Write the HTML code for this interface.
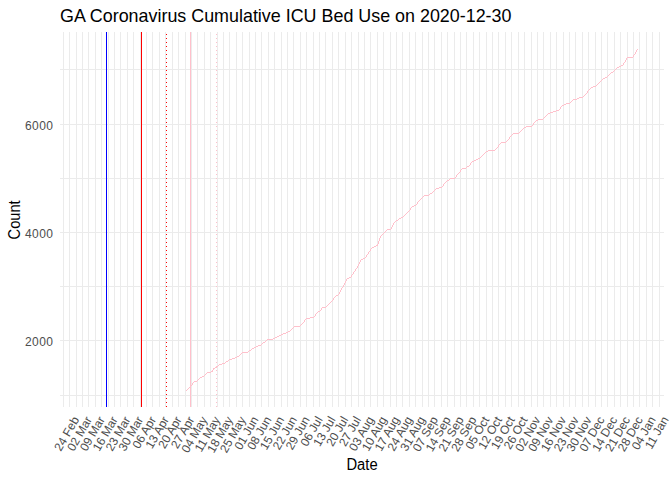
<!DOCTYPE html>
<html><head><meta charset="utf-8"><title>GA Coronavirus Cumulative ICU Bed Use</title>
<style>html,body{margin:0;padding:0;background:#fff;}body{width:672px;height:480px;overflow:hidden;}svg{display:block;}text{font-family:"Liberation Sans",sans-serif;}</style></head><body>
<svg width="672" height="480" viewBox="0 0 672 480">
<rect width="672" height="480" fill="#ffffff"/>
<g shape-rendering="crispEdges" fill="#EBEBEB">
<rect x="60" y="69" width="604" height="1"/>
<rect x="60" y="124" width="604" height="1"/>
<rect x="60" y="178" width="604" height="1"/>
<rect x="60" y="232" width="604" height="1"/>
<rect x="60" y="286" width="604" height="1"/>
<rect x="60" y="340" width="604" height="1"/>
<rect x="60" y="395" width="604" height="1"/>
<rect x="63" y="32" width="1" height="375"/>
<rect x="69" y="32" width="1" height="375"/>
<rect x="76" y="32" width="1" height="375"/>
<rect x="82" y="32" width="1" height="375"/>
<rect x="88" y="32" width="1" height="375"/>
<rect x="95" y="32" width="1" height="375"/>
<rect x="101" y="32" width="1" height="375"/>
<rect x="108" y="32" width="1" height="375"/>
<rect x="114" y="32" width="1" height="375"/>
<rect x="120" y="32" width="1" height="375"/>
<rect x="127" y="32" width="1" height="375"/>
<rect x="133" y="32" width="1" height="375"/>
<rect x="140" y="32" width="1" height="375"/>
<rect x="146" y="32" width="1" height="375"/>
<rect x="152" y="32" width="1" height="375"/>
<rect x="159" y="32" width="1" height="375"/>
<rect x="165" y="32" width="1" height="375"/>
<rect x="172" y="32" width="1" height="375"/>
<rect x="178" y="32" width="1" height="375"/>
<rect x="185" y="32" width="1" height="375"/>
<rect x="191" y="32" width="1" height="375"/>
<rect x="197" y="32" width="1" height="375"/>
<rect x="204" y="32" width="1" height="375"/>
<rect x="210" y="32" width="1" height="375"/>
<rect x="217" y="32" width="1" height="375"/>
<rect x="223" y="32" width="1" height="375"/>
<rect x="229" y="32" width="1" height="375"/>
<rect x="236" y="32" width="1" height="375"/>
<rect x="242" y="32" width="1" height="375"/>
<rect x="249" y="32" width="1" height="375"/>
<rect x="255" y="32" width="1" height="375"/>
<rect x="261" y="32" width="1" height="375"/>
<rect x="268" y="32" width="1" height="375"/>
<rect x="274" y="32" width="1" height="375"/>
<rect x="281" y="32" width="1" height="375"/>
<rect x="287" y="32" width="1" height="375"/>
<rect x="293" y="32" width="1" height="375"/>
<rect x="300" y="32" width="1" height="375"/>
<rect x="306" y="32" width="1" height="375"/>
<rect x="313" y="32" width="1" height="375"/>
<rect x="319" y="32" width="1" height="375"/>
<rect x="325" y="32" width="1" height="375"/>
<rect x="332" y="32" width="1" height="375"/>
<rect x="338" y="32" width="1" height="375"/>
<rect x="345" y="32" width="1" height="375"/>
<rect x="351" y="32" width="1" height="375"/>
<rect x="358" y="32" width="1" height="375"/>
<rect x="364" y="32" width="1" height="375"/>
<rect x="370" y="32" width="1" height="375"/>
<rect x="377" y="32" width="1" height="375"/>
<rect x="383" y="32" width="1" height="375"/>
<rect x="390" y="32" width="1" height="375"/>
<rect x="396" y="32" width="1" height="375"/>
<rect x="402" y="32" width="1" height="375"/>
<rect x="409" y="32" width="1" height="375"/>
<rect x="415" y="32" width="1" height="375"/>
<rect x="422" y="32" width="1" height="375"/>
<rect x="428" y="32" width="1" height="375"/>
<rect x="434" y="32" width="1" height="375"/>
<rect x="441" y="32" width="1" height="375"/>
<rect x="447" y="32" width="1" height="375"/>
<rect x="454" y="32" width="1" height="375"/>
<rect x="460" y="32" width="1" height="375"/>
<rect x="466" y="32" width="1" height="375"/>
<rect x="473" y="32" width="1" height="375"/>
<rect x="479" y="32" width="1" height="375"/>
<rect x="486" y="32" width="1" height="375"/>
<rect x="492" y="32" width="1" height="375"/>
<rect x="498" y="32" width="1" height="375"/>
<rect x="505" y="32" width="1" height="375"/>
<rect x="511" y="32" width="1" height="375"/>
<rect x="518" y="32" width="1" height="375"/>
<rect x="524" y="32" width="1" height="375"/>
<rect x="531" y="32" width="1" height="375"/>
<rect x="537" y="32" width="1" height="375"/>
<rect x="543" y="32" width="1" height="375"/>
<rect x="550" y="32" width="1" height="375"/>
<rect x="556" y="32" width="1" height="375"/>
<rect x="563" y="32" width="1" height="375"/>
<rect x="569" y="32" width="1" height="375"/>
<rect x="575" y="32" width="1" height="375"/>
<rect x="582" y="32" width="1" height="375"/>
<rect x="588" y="32" width="1" height="375"/>
<rect x="595" y="32" width="1" height="375"/>
<rect x="601" y="32" width="1" height="375"/>
<rect x="607" y="32" width="1" height="375"/>
<rect x="614" y="32" width="1" height="375"/>
<rect x="620" y="32" width="1" height="375"/>
<rect x="627" y="32" width="1" height="375"/>
<rect x="633" y="32" width="1" height="375"/>
<rect x="639" y="32" width="1" height="375"/>
<rect x="646" y="32" width="1" height="375"/>
<rect x="652" y="32" width="1" height="375"/>
<rect x="659" y="32" width="1" height="375"/>
</g>
<g shape-rendering="crispEdges" fill="#FFC0CB">
<rect x="637" y="49" width="1" height="1"/>
<rect x="636" y="50" width="1" height="1"/>
<rect x="636" y="51" width="1" height="1"/>
<rect x="635" y="52" width="1" height="1"/>
<rect x="635" y="53" width="1" height="1"/>
<rect x="634" y="54" width="1" height="1"/>
<rect x="633" y="55" width="1" height="1"/>
<rect x="633" y="56" width="1" height="1"/>
<rect x="627" y="57" width="6" height="1"/>
<rect x="626" y="58" width="1" height="1"/>
<rect x="626" y="59" width="1" height="1"/>
<rect x="625" y="60" width="1" height="1"/>
<rect x="625" y="61" width="1" height="1"/>
<rect x="624" y="62" width="1" height="1"/>
<rect x="623" y="63" width="1" height="1"/>
<rect x="623" y="64" width="1" height="1"/>
<rect x="621" y="65" width="2" height="1"/>
<rect x="619" y="66" width="2" height="1"/>
<rect x="617" y="67" width="2" height="1"/>
<rect x="616" y="68" width="1" height="1"/>
<rect x="615" y="69" width="1" height="1"/>
<rect x="614" y="70" width="1" height="1"/>
<rect x="613" y="71" width="1" height="1"/>
<rect x="611" y="72" width="2" height="1"/>
<rect x="610" y="73" width="1" height="1"/>
<rect x="609" y="74" width="1" height="1"/>
<rect x="608" y="75" width="1" height="1"/>
<rect x="607" y="76" width="1" height="1"/>
<rect x="605" y="77" width="2" height="1"/>
<rect x="603" y="78" width="2" height="1"/>
<rect x="602" y="79" width="1" height="1"/>
<rect x="601" y="80" width="1" height="1"/>
<rect x="600" y="81" width="1" height="1"/>
<rect x="599" y="82" width="1" height="1"/>
<rect x="598" y="83" width="1" height="1"/>
<rect x="597" y="84" width="1" height="1"/>
<rect x="596" y="85" width="1" height="1"/>
<rect x="593" y="86" width="3" height="1"/>
<rect x="591" y="87" width="2" height="1"/>
<rect x="590" y="88" width="1" height="1"/>
<rect x="589" y="89" width="1" height="1"/>
<rect x="588" y="90" width="1" height="1"/>
<rect x="587" y="91" width="1" height="1"/>
<rect x="587" y="92" width="1" height="1"/>
<rect x="586" y="93" width="1" height="1"/>
<rect x="585" y="94" width="1" height="1"/>
<rect x="584" y="95" width="1" height="1"/>
<rect x="583" y="96" width="1" height="1"/>
<rect x="579" y="97" width="4" height="1"/>
<rect x="577" y="98" width="2" height="1"/>
<rect x="573" y="99" width="4" height="1"/>
<rect x="572" y="100" width="1" height="1"/>
<rect x="571" y="101" width="1" height="1"/>
<rect x="570" y="102" width="1" height="1"/>
<rect x="566" y="103" width="4" height="1"/>
<rect x="564" y="104" width="2" height="1"/>
<rect x="562" y="105" width="2" height="1"/>
<rect x="561" y="106" width="1" height="1"/>
<rect x="560" y="107" width="1" height="1"/>
<rect x="560" y="108" width="1" height="1"/>
<rect x="559" y="109" width="1" height="1"/>
<rect x="556" y="110" width="3" height="1"/>
<rect x="553" y="111" width="3" height="1"/>
<rect x="550" y="112" width="3" height="1"/>
<rect x="548" y="113" width="2" height="1"/>
<rect x="547" y="114" width="1" height="1"/>
<rect x="546" y="115" width="1" height="1"/>
<rect x="545" y="116" width="1" height="1"/>
<rect x="544" y="117" width="1" height="1"/>
<rect x="543" y="118" width="1" height="1"/>
<rect x="538" y="119" width="5" height="1"/>
<rect x="536" y="120" width="2" height="1"/>
<rect x="535" y="121" width="1" height="1"/>
<rect x="534" y="122" width="1" height="1"/>
<rect x="533" y="123" width="1" height="1"/>
<rect x="533" y="124" width="1" height="1"/>
<rect x="532" y="125" width="1" height="1"/>
<rect x="526" y="126" width="6" height="1"/>
<rect x="524" y="127" width="2" height="1"/>
<rect x="523" y="128" width="1" height="1"/>
<rect x="522" y="129" width="1" height="1"/>
<rect x="521" y="130" width="1" height="1"/>
<rect x="520" y="131" width="1" height="1"/>
<rect x="519" y="132" width="1" height="1"/>
<rect x="513" y="133" width="6" height="1"/>
<rect x="512" y="134" width="1" height="1"/>
<rect x="511" y="135" width="1" height="1"/>
<rect x="510" y="136" width="1" height="1"/>
<rect x="509" y="137" width="1" height="1"/>
<rect x="509" y="138" width="1" height="1"/>
<rect x="508" y="139" width="1" height="1"/>
<rect x="507" y="140" width="1" height="1"/>
<rect x="506" y="141" width="1" height="1"/>
<rect x="501" y="142" width="5" height="1"/>
<rect x="500" y="143" width="1" height="1"/>
<rect x="499" y="144" width="1" height="1"/>
<rect x="498" y="145" width="1" height="1"/>
<rect x="498" y="146" width="1" height="1"/>
<rect x="497" y="147" width="1" height="1"/>
<rect x="496" y="148" width="1" height="1"/>
<rect x="495" y="149" width="1" height="1"/>
<rect x="488" y="150" width="7" height="1"/>
<rect x="486" y="151" width="2" height="1"/>
<rect x="485" y="152" width="1" height="1"/>
<rect x="484" y="153" width="1" height="1"/>
<rect x="483" y="154" width="1" height="1"/>
<rect x="482" y="155" width="1" height="1"/>
<rect x="481" y="156" width="1" height="1"/>
<rect x="480" y="157" width="1" height="1"/>
<rect x="478" y="158" width="2" height="1"/>
<rect x="476" y="159" width="2" height="1"/>
<rect x="474" y="160" width="2" height="1"/>
<rect x="472" y="161" width="2" height="1"/>
<rect x="471" y="162" width="1" height="1"/>
<rect x="470" y="163" width="1" height="1"/>
<rect x="470" y="164" width="1" height="1"/>
<rect x="469" y="165" width="1" height="1"/>
<rect x="467" y="166" width="2" height="1"/>
<rect x="466" y="167" width="1" height="1"/>
<rect x="462" y="168" width="4" height="1"/>
<rect x="461" y="169" width="1" height="1"/>
<rect x="460" y="170" width="1" height="1"/>
<rect x="460" y="171" width="1" height="1"/>
<rect x="459" y="172" width="1" height="1"/>
<rect x="458" y="173" width="1" height="1"/>
<rect x="457" y="174" width="1" height="1"/>
<rect x="456" y="175" width="1" height="1"/>
<rect x="456" y="176" width="1" height="1"/>
<rect x="455" y="177" width="1" height="1"/>
<rect x="450" y="178" width="5" height="1"/>
<rect x="449" y="179" width="1" height="1"/>
<rect x="447" y="180" width="2" height="1"/>
<rect x="446" y="181" width="1" height="1"/>
<rect x="445" y="182" width="1" height="1"/>
<rect x="444" y="183" width="1" height="1"/>
<rect x="443" y="184" width="1" height="1"/>
<rect x="443" y="185" width="1" height="1"/>
<rect x="442" y="186" width="1" height="1"/>
<rect x="439" y="187" width="3" height="1"/>
<rect x="436" y="188" width="3" height="1"/>
<rect x="435" y="189" width="1" height="1"/>
<rect x="434" y="190" width="1" height="1"/>
<rect x="433" y="191" width="1" height="1"/>
<rect x="432" y="192" width="1" height="1"/>
<rect x="430" y="193" width="2" height="1"/>
<rect x="429" y="194" width="1" height="1"/>
<rect x="424" y="195" width="5" height="1"/>
<rect x="423" y="196" width="1" height="1"/>
<rect x="422" y="197" width="1" height="1"/>
<rect x="421" y="198" width="1" height="1"/>
<rect x="420" y="199" width="1" height="1"/>
<rect x="419" y="200" width="1" height="1"/>
<rect x="418" y="201" width="1" height="1"/>
<rect x="417" y="202" width="1" height="1"/>
<rect x="417" y="203" width="1" height="1"/>
<rect x="416" y="204" width="1" height="1"/>
<rect x="414" y="205" width="2" height="1"/>
<rect x="412" y="206" width="2" height="1"/>
<rect x="411" y="207" width="1" height="1"/>
<rect x="410" y="208" width="1" height="1"/>
<rect x="410" y="209" width="1" height="1"/>
<rect x="409" y="210" width="1" height="1"/>
<rect x="408" y="211" width="1" height="1"/>
<rect x="407" y="212" width="1" height="1"/>
<rect x="406" y="213" width="1" height="1"/>
<rect x="405" y="214" width="1" height="1"/>
<rect x="404" y="215" width="1" height="1"/>
<rect x="403" y="216" width="1" height="1"/>
<rect x="401" y="217" width="2" height="1"/>
<rect x="399" y="218" width="2" height="1"/>
<rect x="398" y="219" width="1" height="1"/>
<rect x="396" y="220" width="2" height="1"/>
<rect x="395" y="221" width="1" height="1"/>
<rect x="394" y="222" width="1" height="1"/>
<rect x="393" y="223" width="1" height="1"/>
<rect x="393" y="224" width="1" height="1"/>
<rect x="392" y="225" width="1" height="1"/>
<rect x="392" y="226" width="1" height="1"/>
<rect x="391" y="227" width="1" height="1"/>
<rect x="391" y="228" width="1" height="1"/>
<rect x="387" y="229" width="4" height="1"/>
<rect x="386" y="230" width="1" height="1"/>
<rect x="385" y="231" width="1" height="1"/>
<rect x="384" y="232" width="1" height="1"/>
<rect x="383" y="233" width="1" height="1"/>
<rect x="382" y="234" width="1" height="1"/>
<rect x="381" y="235" width="1" height="1"/>
<rect x="380" y="236" width="1" height="1"/>
<rect x="380" y="237" width="1" height="1"/>
<rect x="379" y="238" width="1" height="1"/>
<rect x="379" y="239" width="1" height="1"/>
<rect x="379" y="240" width="1" height="1"/>
<rect x="378" y="241" width="1" height="1"/>
<rect x="378" y="242" width="1" height="1"/>
<rect x="378" y="243" width="1" height="1"/>
<rect x="377" y="244" width="1" height="1"/>
<rect x="376" y="245" width="2" height="1"/>
<rect x="374" y="246" width="2" height="1"/>
<rect x="372" y="247" width="2" height="1"/>
<rect x="371" y="248" width="1" height="1"/>
<rect x="370" y="249" width="1" height="1"/>
<rect x="370" y="250" width="1" height="1"/>
<rect x="369" y="251" width="1" height="1"/>
<rect x="368" y="252" width="1" height="1"/>
<rect x="368" y="253" width="1" height="1"/>
<rect x="367" y="254" width="1" height="1"/>
<rect x="366" y="255" width="1" height="1"/>
<rect x="366" y="256" width="1" height="1"/>
<rect x="365" y="257" width="1" height="1"/>
<rect x="363" y="258" width="2" height="1"/>
<rect x="361" y="259" width="2" height="1"/>
<rect x="360" y="260" width="1" height="1"/>
<rect x="360" y="261" width="1" height="1"/>
<rect x="359" y="262" width="1" height="1"/>
<rect x="359" y="263" width="1" height="1"/>
<rect x="358" y="264" width="1" height="1"/>
<rect x="358" y="265" width="1" height="1"/>
<rect x="357" y="266" width="1" height="1"/>
<rect x="357" y="267" width="1" height="1"/>
<rect x="356" y="268" width="1" height="1"/>
<rect x="355" y="269" width="1" height="1"/>
<rect x="355" y="270" width="1" height="1"/>
<rect x="354" y="271" width="1" height="1"/>
<rect x="353" y="272" width="1" height="1"/>
<rect x="353" y="273" width="1" height="1"/>
<rect x="352" y="274" width="1" height="1"/>
<rect x="351" y="275" width="1" height="1"/>
<rect x="351" y="276" width="1" height="1"/>
<rect x="349" y="277" width="2" height="1"/>
<rect x="347" y="278" width="2" height="1"/>
<rect x="346" y="279" width="1" height="1"/>
<rect x="346" y="280" width="1" height="1"/>
<rect x="345" y="281" width="1" height="1"/>
<rect x="345" y="282" width="1" height="1"/>
<rect x="344" y="283" width="1" height="1"/>
<rect x="344" y="284" width="1" height="1"/>
<rect x="343" y="285" width="1" height="1"/>
<rect x="343" y="286" width="1" height="1"/>
<rect x="342" y="287" width="1" height="1"/>
<rect x="341" y="288" width="1" height="1"/>
<rect x="341" y="289" width="1" height="1"/>
<rect x="340" y="290" width="1" height="1"/>
<rect x="340" y="291" width="1" height="1"/>
<rect x="339" y="292" width="1" height="1"/>
<rect x="339" y="293" width="1" height="1"/>
<rect x="338" y="294" width="1" height="1"/>
<rect x="336" y="295" width="2" height="1"/>
<rect x="335" y="296" width="1" height="1"/>
<rect x="334" y="297" width="1" height="1"/>
<rect x="333" y="298" width="1" height="1"/>
<rect x="333" y="299" width="1" height="1"/>
<rect x="332" y="300" width="1" height="1"/>
<rect x="331" y="301" width="1" height="1"/>
<rect x="330" y="302" width="1" height="1"/>
<rect x="329" y="303" width="1" height="1"/>
<rect x="328" y="304" width="1" height="1"/>
<rect x="327" y="305" width="1" height="1"/>
<rect x="326" y="306" width="1" height="1"/>
<rect x="322" y="307" width="4" height="1"/>
<rect x="321" y="308" width="1" height="1"/>
<rect x="321" y="309" width="1" height="1"/>
<rect x="320" y="310" width="1" height="1"/>
<rect x="318" y="311" width="2" height="1"/>
<rect x="317" y="312" width="1" height="1"/>
<rect x="316" y="313" width="1" height="1"/>
<rect x="315" y="314" width="1" height="1"/>
<rect x="315" y="315" width="1" height="1"/>
<rect x="314" y="316" width="1" height="1"/>
<rect x="310" y="317" width="4" height="1"/>
<rect x="306" y="318" width="4" height="1"/>
<rect x="305" y="319" width="1" height="1"/>
<rect x="304" y="320" width="1" height="1"/>
<rect x="304" y="321" width="1" height="1"/>
<rect x="303" y="322" width="1" height="1"/>
<rect x="302" y="323" width="1" height="1"/>
<rect x="301" y="324" width="1" height="1"/>
<rect x="300" y="325" width="1" height="1"/>
<rect x="294" y="326" width="6" height="1"/>
<rect x="293" y="327" width="1" height="1"/>
<rect x="292" y="328" width="1" height="1"/>
<rect x="291" y="329" width="1" height="1"/>
<rect x="290" y="330" width="1" height="1"/>
<rect x="288" y="331" width="2" height="1"/>
<rect x="286" y="332" width="2" height="1"/>
<rect x="283" y="333" width="3" height="1"/>
<rect x="281" y="334" width="2" height="1"/>
<rect x="279" y="335" width="2" height="1"/>
<rect x="277" y="336" width="2" height="1"/>
<rect x="275" y="337" width="2" height="1"/>
<rect x="273" y="338" width="2" height="1"/>
<rect x="267" y="339" width="6" height="1"/>
<rect x="266" y="340" width="1" height="1"/>
<rect x="265" y="341" width="1" height="1"/>
<rect x="263" y="342" width="2" height="1"/>
<rect x="262" y="343" width="1" height="1"/>
<rect x="261" y="344" width="1" height="1"/>
<rect x="258" y="345" width="3" height="1"/>
<rect x="256" y="346" width="2" height="1"/>
<rect x="254" y="347" width="2" height="1"/>
<rect x="252" y="348" width="2" height="1"/>
<rect x="251" y="349" width="1" height="1"/>
<rect x="249" y="350" width="2" height="1"/>
<rect x="248" y="351" width="1" height="1"/>
<rect x="242" y="352" width="6" height="1"/>
<rect x="241" y="353" width="1" height="1"/>
<rect x="240" y="354" width="1" height="1"/>
<rect x="239" y="355" width="1" height="1"/>
<rect x="237" y="356" width="2" height="1"/>
<rect x="235" y="357" width="2" height="1"/>
<rect x="232" y="358" width="3" height="1"/>
<rect x="229" y="359" width="3" height="1"/>
<rect x="228" y="360" width="1" height="1"/>
<rect x="226" y="361" width="2" height="1"/>
<rect x="225" y="362" width="1" height="1"/>
<rect x="222" y="363" width="3" height="1"/>
<rect x="219" y="364" width="3" height="1"/>
<rect x="218" y="365" width="1" height="1"/>
<rect x="217" y="366" width="1" height="1"/>
<rect x="215" y="367" width="2" height="1"/>
<rect x="213" y="368" width="2" height="1"/>
<rect x="213" y="369" width="1" height="1"/>
<rect x="212" y="370" width="1" height="1"/>
<rect x="211" y="371" width="2" height="1"/>
<rect x="207" y="372" width="4" height="1"/>
<rect x="206" y="373" width="1" height="1"/>
<rect x="205" y="374" width="1" height="1"/>
<rect x="204" y="375" width="1" height="1"/>
<rect x="202" y="376" width="2" height="1"/>
<rect x="200" y="377" width="2" height="1"/>
<rect x="199" y="378" width="1" height="1"/>
<rect x="198" y="379" width="1" height="1"/>
<rect x="197" y="380" width="1" height="1"/>
<rect x="194" y="381" width="3" height="1"/>
<rect x="193" y="382" width="1" height="1"/>
<rect x="192" y="383" width="1" height="1"/>
<rect x="192" y="384" width="1" height="1"/>
<rect x="191" y="385" width="1" height="1"/>
<rect x="190" y="386" width="1" height="1"/>
<rect x="189" y="387" width="1" height="1"/>
<rect x="188" y="388" width="1" height="1"/>
<rect x="187" y="389" width="1" height="1"/>
<rect x="186" y="390" width="1" height="1"/>
</g>
<g shape-rendering="crispEdges">
<rect x="106" y="32" width="1" height="375" fill="#0000FF"/>
<rect x="141" y="32" width="1" height="375" fill="#FF0000"/>
<rect x="190" y="32" width="1" height="375" fill="#FFC0CB"/>
<rect x="166" y="406" width="1" height="1" fill="#FF0000"/>
<rect x="166" y="402" width="1" height="1" fill="#FF0000"/>
<rect x="166" y="398" width="1" height="1" fill="#FF0000"/>
<rect x="166" y="394" width="1" height="1" fill="#FF0000"/>
<rect x="166" y="390" width="1" height="1" fill="#FF0000"/>
<rect x="166" y="386" width="1" height="1" fill="#FF0000"/>
<rect x="166" y="382" width="1" height="1" fill="#FF0000"/>
<rect x="166" y="378" width="1" height="1" fill="#FF0000"/>
<rect x="166" y="374" width="1" height="1" fill="#FF0000"/>
<rect x="166" y="370" width="1" height="1" fill="#FF0000"/>
<rect x="166" y="366" width="1" height="1" fill="#FF0000"/>
<rect x="166" y="362" width="1" height="1" fill="#FF0000"/>
<rect x="166" y="358" width="1" height="1" fill="#FF0000"/>
<rect x="166" y="354" width="1" height="1" fill="#FF0000"/>
<rect x="166" y="350" width="1" height="1" fill="#FF0000"/>
<rect x="166" y="346" width="1" height="1" fill="#FF0000"/>
<rect x="166" y="342" width="1" height="1" fill="#FF0000"/>
<rect x="166" y="338" width="1" height="1" fill="#FF0000"/>
<rect x="166" y="334" width="1" height="1" fill="#FF0000"/>
<rect x="166" y="330" width="1" height="1" fill="#FF0000"/>
<rect x="166" y="326" width="1" height="1" fill="#FF0000"/>
<rect x="166" y="322" width="1" height="1" fill="#FF0000"/>
<rect x="166" y="318" width="1" height="1" fill="#FF0000"/>
<rect x="166" y="314" width="1" height="1" fill="#FF0000"/>
<rect x="166" y="310" width="1" height="1" fill="#FF0000"/>
<rect x="166" y="306" width="1" height="1" fill="#FF0000"/>
<rect x="166" y="302" width="1" height="1" fill="#FF0000"/>
<rect x="166" y="298" width="1" height="1" fill="#FF0000"/>
<rect x="166" y="294" width="1" height="1" fill="#FF0000"/>
<rect x="166" y="290" width="1" height="1" fill="#FF0000"/>
<rect x="166" y="286" width="1" height="1" fill="#FF0000"/>
<rect x="166" y="282" width="1" height="1" fill="#FF0000"/>
<rect x="166" y="278" width="1" height="1" fill="#FF0000"/>
<rect x="166" y="274" width="1" height="1" fill="#FF0000"/>
<rect x="166" y="270" width="1" height="1" fill="#FF0000"/>
<rect x="166" y="266" width="1" height="1" fill="#FF0000"/>
<rect x="166" y="262" width="1" height="1" fill="#FF0000"/>
<rect x="166" y="258" width="1" height="1" fill="#FF0000"/>
<rect x="166" y="254" width="1" height="1" fill="#FF0000"/>
<rect x="166" y="250" width="1" height="1" fill="#FF0000"/>
<rect x="166" y="246" width="1" height="1" fill="#FF0000"/>
<rect x="166" y="242" width="1" height="1" fill="#FF0000"/>
<rect x="166" y="238" width="1" height="1" fill="#FF0000"/>
<rect x="166" y="234" width="1" height="1" fill="#FF0000"/>
<rect x="166" y="230" width="1" height="1" fill="#FF0000"/>
<rect x="166" y="226" width="1" height="1" fill="#FF0000"/>
<rect x="166" y="222" width="1" height="1" fill="#FF0000"/>
<rect x="166" y="218" width="1" height="1" fill="#FF0000"/>
<rect x="166" y="214" width="1" height="1" fill="#FF0000"/>
<rect x="166" y="210" width="1" height="1" fill="#FF0000"/>
<rect x="166" y="206" width="1" height="1" fill="#FF0000"/>
<rect x="166" y="202" width="1" height="1" fill="#FF0000"/>
<rect x="166" y="198" width="1" height="1" fill="#FF0000"/>
<rect x="166" y="194" width="1" height="1" fill="#FF0000"/>
<rect x="166" y="190" width="1" height="1" fill="#FF0000"/>
<rect x="166" y="186" width="1" height="1" fill="#FF0000"/>
<rect x="166" y="182" width="1" height="1" fill="#FF0000"/>
<rect x="166" y="178" width="1" height="1" fill="#FF0000"/>
<rect x="166" y="174" width="1" height="1" fill="#FF0000"/>
<rect x="166" y="170" width="1" height="1" fill="#FF0000"/>
<rect x="166" y="166" width="1" height="1" fill="#FF0000"/>
<rect x="166" y="162" width="1" height="1" fill="#FF0000"/>
<rect x="166" y="158" width="1" height="1" fill="#FF0000"/>
<rect x="166" y="154" width="1" height="1" fill="#FF0000"/>
<rect x="166" y="150" width="1" height="1" fill="#FF0000"/>
<rect x="166" y="146" width="1" height="1" fill="#FF0000"/>
<rect x="166" y="142" width="1" height="1" fill="#FF0000"/>
<rect x="166" y="138" width="1" height="1" fill="#FF0000"/>
<rect x="166" y="134" width="1" height="1" fill="#FF0000"/>
<rect x="166" y="130" width="1" height="1" fill="#FF0000"/>
<rect x="166" y="126" width="1" height="1" fill="#FF0000"/>
<rect x="166" y="122" width="1" height="1" fill="#FF0000"/>
<rect x="166" y="118" width="1" height="1" fill="#FF0000"/>
<rect x="166" y="114" width="1" height="1" fill="#FF0000"/>
<rect x="166" y="110" width="1" height="1" fill="#FF0000"/>
<rect x="166" y="106" width="1" height="1" fill="#FF0000"/>
<rect x="166" y="102" width="1" height="1" fill="#FF0000"/>
<rect x="166" y="98" width="1" height="1" fill="#FF0000"/>
<rect x="166" y="94" width="1" height="1" fill="#FF0000"/>
<rect x="166" y="90" width="1" height="1" fill="#FF0000"/>
<rect x="166" y="86" width="1" height="1" fill="#FF0000"/>
<rect x="166" y="82" width="1" height="1" fill="#FF0000"/>
<rect x="166" y="78" width="1" height="1" fill="#FF0000"/>
<rect x="166" y="74" width="1" height="1" fill="#FF0000"/>
<rect x="166" y="70" width="1" height="1" fill="#FF0000"/>
<rect x="166" y="66" width="1" height="1" fill="#FF0000"/>
<rect x="166" y="62" width="1" height="1" fill="#FF0000"/>
<rect x="166" y="58" width="1" height="1" fill="#FF0000"/>
<rect x="166" y="54" width="1" height="1" fill="#FF0000"/>
<rect x="166" y="50" width="1" height="1" fill="#FF0000"/>
<rect x="166" y="46" width="1" height="1" fill="#FF0000"/>
<rect x="166" y="42" width="1" height="1" fill="#FF0000"/>
<rect x="166" y="38" width="1" height="1" fill="#FF0000"/>
<rect x="166" y="34" width="1" height="1" fill="#FF0000"/>
<rect x="216" y="406" width="1" height="1" fill="#FFC0CB"/>
<rect x="216" y="402" width="1" height="1" fill="#FFC0CB"/>
<rect x="216" y="398" width="1" height="1" fill="#FFC0CB"/>
<rect x="216" y="394" width="1" height="1" fill="#FFC0CB"/>
<rect x="216" y="390" width="1" height="1" fill="#FFC0CB"/>
<rect x="216" y="386" width="1" height="1" fill="#FFC0CB"/>
<rect x="216" y="382" width="1" height="1" fill="#FFC0CB"/>
<rect x="216" y="378" width="1" height="1" fill="#FFC0CB"/>
<rect x="216" y="374" width="1" height="1" fill="#FFC0CB"/>
<rect x="216" y="370" width="1" height="1" fill="#FFC0CB"/>
<rect x="216" y="366" width="1" height="1" fill="#FFC0CB"/>
<rect x="216" y="362" width="1" height="1" fill="#FFC0CB"/>
<rect x="216" y="358" width="1" height="1" fill="#FFC0CB"/>
<rect x="216" y="354" width="1" height="1" fill="#FFC0CB"/>
<rect x="216" y="350" width="1" height="1" fill="#FFC0CB"/>
<rect x="216" y="346" width="1" height="1" fill="#FFC0CB"/>
<rect x="216" y="342" width="1" height="1" fill="#FFC0CB"/>
<rect x="216" y="338" width="1" height="1" fill="#FFC0CB"/>
<rect x="216" y="334" width="1" height="1" fill="#FFC0CB"/>
<rect x="216" y="330" width="1" height="1" fill="#FFC0CB"/>
<rect x="216" y="326" width="1" height="1" fill="#FFC0CB"/>
<rect x="216" y="322" width="1" height="1" fill="#FFC0CB"/>
<rect x="216" y="318" width="1" height="1" fill="#FFC0CB"/>
<rect x="216" y="314" width="1" height="1" fill="#FFC0CB"/>
<rect x="216" y="310" width="1" height="1" fill="#FFC0CB"/>
<rect x="216" y="306" width="1" height="1" fill="#FFC0CB"/>
<rect x="216" y="302" width="1" height="1" fill="#FFC0CB"/>
<rect x="216" y="298" width="1" height="1" fill="#FFC0CB"/>
<rect x="216" y="294" width="1" height="1" fill="#FFC0CB"/>
<rect x="216" y="290" width="1" height="1" fill="#FFC0CB"/>
<rect x="216" y="286" width="1" height="1" fill="#FFC0CB"/>
<rect x="216" y="282" width="1" height="1" fill="#FFC0CB"/>
<rect x="216" y="278" width="1" height="1" fill="#FFC0CB"/>
<rect x="216" y="274" width="1" height="1" fill="#FFC0CB"/>
<rect x="216" y="270" width="1" height="1" fill="#FFC0CB"/>
<rect x="216" y="266" width="1" height="1" fill="#FFC0CB"/>
<rect x="216" y="262" width="1" height="1" fill="#FFC0CB"/>
<rect x="216" y="258" width="1" height="1" fill="#FFC0CB"/>
<rect x="216" y="254" width="1" height="1" fill="#FFC0CB"/>
<rect x="216" y="250" width="1" height="1" fill="#FFC0CB"/>
<rect x="216" y="246" width="1" height="1" fill="#FFC0CB"/>
<rect x="216" y="242" width="1" height="1" fill="#FFC0CB"/>
<rect x="216" y="238" width="1" height="1" fill="#FFC0CB"/>
<rect x="216" y="234" width="1" height="1" fill="#FFC0CB"/>
<rect x="216" y="230" width="1" height="1" fill="#FFC0CB"/>
<rect x="216" y="226" width="1" height="1" fill="#FFC0CB"/>
<rect x="216" y="222" width="1" height="1" fill="#FFC0CB"/>
<rect x="216" y="218" width="1" height="1" fill="#FFC0CB"/>
<rect x="216" y="214" width="1" height="1" fill="#FFC0CB"/>
<rect x="216" y="210" width="1" height="1" fill="#FFC0CB"/>
<rect x="216" y="206" width="1" height="1" fill="#FFC0CB"/>
<rect x="216" y="202" width="1" height="1" fill="#FFC0CB"/>
<rect x="216" y="198" width="1" height="1" fill="#FFC0CB"/>
<rect x="216" y="194" width="1" height="1" fill="#FFC0CB"/>
<rect x="216" y="190" width="1" height="1" fill="#FFC0CB"/>
<rect x="216" y="186" width="1" height="1" fill="#FFC0CB"/>
<rect x="216" y="182" width="1" height="1" fill="#FFC0CB"/>
<rect x="216" y="178" width="1" height="1" fill="#FFC0CB"/>
<rect x="216" y="174" width="1" height="1" fill="#FFC0CB"/>
<rect x="216" y="170" width="1" height="1" fill="#FFC0CB"/>
<rect x="216" y="166" width="1" height="1" fill="#FFC0CB"/>
<rect x="216" y="162" width="1" height="1" fill="#FFC0CB"/>
<rect x="216" y="158" width="1" height="1" fill="#FFC0CB"/>
<rect x="216" y="154" width="1" height="1" fill="#FFC0CB"/>
<rect x="216" y="150" width="1" height="1" fill="#FFC0CB"/>
<rect x="216" y="146" width="1" height="1" fill="#FFC0CB"/>
<rect x="216" y="142" width="1" height="1" fill="#FFC0CB"/>
<rect x="216" y="138" width="1" height="1" fill="#FFC0CB"/>
<rect x="216" y="134" width="1" height="1" fill="#FFC0CB"/>
<rect x="216" y="130" width="1" height="1" fill="#FFC0CB"/>
<rect x="216" y="126" width="1" height="1" fill="#FFC0CB"/>
<rect x="216" y="122" width="1" height="1" fill="#FFC0CB"/>
<rect x="216" y="118" width="1" height="1" fill="#FFC0CB"/>
<rect x="216" y="114" width="1" height="1" fill="#FFC0CB"/>
<rect x="216" y="110" width="1" height="1" fill="#FFC0CB"/>
<rect x="216" y="106" width="1" height="1" fill="#FFC0CB"/>
<rect x="216" y="102" width="1" height="1" fill="#FFC0CB"/>
<rect x="216" y="98" width="1" height="1" fill="#FFC0CB"/>
<rect x="216" y="94" width="1" height="1" fill="#FFC0CB"/>
<rect x="216" y="90" width="1" height="1" fill="#FFC0CB"/>
<rect x="216" y="86" width="1" height="1" fill="#FFC0CB"/>
<rect x="216" y="82" width="1" height="1" fill="#FFC0CB"/>
<rect x="216" y="78" width="1" height="1" fill="#FFC0CB"/>
<rect x="216" y="74" width="1" height="1" fill="#FFC0CB"/>
<rect x="216" y="70" width="1" height="1" fill="#FFC0CB"/>
<rect x="216" y="66" width="1" height="1" fill="#FFC0CB"/>
<rect x="216" y="62" width="1" height="1" fill="#FFC0CB"/>
<rect x="216" y="58" width="1" height="1" fill="#FFC0CB"/>
<rect x="216" y="54" width="1" height="1" fill="#FFC0CB"/>
<rect x="216" y="50" width="1" height="1" fill="#FFC0CB"/>
<rect x="216" y="46" width="1" height="1" fill="#FFC0CB"/>
<rect x="216" y="42" width="1" height="1" fill="#FFC0CB"/>
<rect x="216" y="38" width="1" height="1" fill="#FFC0CB"/>
<rect x="216" y="34" width="1" height="1" fill="#FFC0CB"/>
</g>
<text id="title" x="60" y="22" font-size="17.9px" fill="#000">GA Coronavirus Cumulative ICU Bed Use on 2020-12-30</text>
<text class="yt" x="53.2" y="129.7" font-size="12px" letter-spacing="0.35" fill="#4D4D4D" text-anchor="end">6000</text>
<text class="yt" x="53.2" y="237.7" font-size="12px" letter-spacing="0.35" fill="#4D4D4D" text-anchor="end">4000</text>
<text class="yt" x="53.2" y="345.7" font-size="12px" letter-spacing="0.35" fill="#4D4D4D" text-anchor="end">2000</text>
<text id="xl" transform="translate(362,469.6) scale(0.985,1.07)" font-size="15px" fill="#000" text-anchor="middle">Date</text>
<text id="yl" transform="translate(20.2,219.9) rotate(-90) scale(0.975,1.04)" font-size="15px" fill="#000" text-anchor="middle">Count</text>
<text class="xt" transform="translate(70.10,414.1) rotate(-60)" x="0" y="10.9" font-size="12px" fill="#4D4D4D" text-anchor="end">24 Feb</text>
<text class="xt" transform="translate(82.91,414.1) rotate(-60)" x="0" y="10.9" font-size="12px" fill="#4D4D4D" text-anchor="end">02 Mar</text>
<text class="xt" transform="translate(95.73,414.1) rotate(-60)" x="0" y="10.9" font-size="12px" fill="#4D4D4D" text-anchor="end">09 Mar</text>
<text class="xt" transform="translate(108.54,414.1) rotate(-60)" x="0" y="10.9" font-size="12px" fill="#4D4D4D" text-anchor="end">16 Mar</text>
<text class="xt" transform="translate(121.36,414.1) rotate(-60)" x="0" y="10.9" font-size="12px" fill="#4D4D4D" text-anchor="end">23 Mar</text>
<text class="xt" transform="translate(134.17,414.1) rotate(-60)" x="0" y="10.9" font-size="12px" fill="#4D4D4D" text-anchor="end">30 Mar</text>
<text class="xt" transform="translate(146.99,414.1) rotate(-60)" x="0" y="10.9" font-size="12px" fill="#4D4D4D" text-anchor="end">06 Apr</text>
<text class="xt" transform="translate(159.80,414.1) rotate(-60)" x="0" y="10.9" font-size="12px" fill="#4D4D4D" text-anchor="end">13 Apr</text>
<text class="xt" transform="translate(172.61,414.1) rotate(-60)" x="0" y="10.9" font-size="12px" fill="#4D4D4D" text-anchor="end">20 Apr</text>
<text class="xt" transform="translate(185.43,414.1) rotate(-60)" x="0" y="10.9" font-size="12px" fill="#4D4D4D" text-anchor="end">27 Apr</text>
<text class="xt" transform="translate(198.24,414.1) rotate(-60)" x="0" y="10.9" font-size="12px" fill="#4D4D4D" text-anchor="end">04 May</text>
<text class="xt" transform="translate(211.06,414.1) rotate(-60)" x="0" y="10.9" font-size="12px" fill="#4D4D4D" text-anchor="end">11 May</text>
<text class="xt" transform="translate(223.87,414.1) rotate(-60)" x="0" y="10.9" font-size="12px" fill="#4D4D4D" text-anchor="end">18 May</text>
<text class="xt" transform="translate(236.69,414.1) rotate(-60)" x="0" y="10.9" font-size="12px" fill="#4D4D4D" text-anchor="end">25 May</text>
<text class="xt" transform="translate(249.50,414.1) rotate(-60)" x="0" y="10.9" font-size="12px" fill="#4D4D4D" text-anchor="end">01 Jun</text>
<text class="xt" transform="translate(262.31,414.1) rotate(-60)" x="0" y="10.9" font-size="12px" fill="#4D4D4D" text-anchor="end">08 Jun</text>
<text class="xt" transform="translate(275.13,414.1) rotate(-60)" x="0" y="10.9" font-size="12px" fill="#4D4D4D" text-anchor="end">15 Jun</text>
<text class="xt" transform="translate(287.94,414.1) rotate(-60)" x="0" y="10.9" font-size="12px" fill="#4D4D4D" text-anchor="end">22 Jun</text>
<text class="xt" transform="translate(300.76,414.1) rotate(-60)" x="0" y="10.9" font-size="12px" fill="#4D4D4D" text-anchor="end">29 Jun</text>
<text class="xt" transform="translate(313.57,414.1) rotate(-60)" x="0" y="10.9" font-size="12px" fill="#4D4D4D" text-anchor="end">06 Jul</text>
<text class="xt" transform="translate(326.39,414.1) rotate(-60)" x="0" y="10.9" font-size="12px" fill="#4D4D4D" text-anchor="end">13 Jul</text>
<text class="xt" transform="translate(339.20,414.1) rotate(-60)" x="0" y="10.9" font-size="12px" fill="#4D4D4D" text-anchor="end">20 Jul</text>
<text class="xt" transform="translate(352.01,414.1) rotate(-60)" x="0" y="10.9" font-size="12px" fill="#4D4D4D" text-anchor="end">27 Jul</text>
<text class="xt" transform="translate(364.83,414.1) rotate(-60)" x="0" y="10.9" font-size="12px" fill="#4D4D4D" text-anchor="end">03 Aug</text>
<text class="xt" transform="translate(377.64,414.1) rotate(-60)" x="0" y="10.9" font-size="12px" fill="#4D4D4D" text-anchor="end">10 Aug</text>
<text class="xt" transform="translate(390.46,414.1) rotate(-60)" x="0" y="10.9" font-size="12px" fill="#4D4D4D" text-anchor="end">17 Aug</text>
<text class="xt" transform="translate(403.27,414.1) rotate(-60)" x="0" y="10.9" font-size="12px" fill="#4D4D4D" text-anchor="end">24 Aug</text>
<text class="xt" transform="translate(416.09,414.1) rotate(-60)" x="0" y="10.9" font-size="12px" fill="#4D4D4D" text-anchor="end">31 Aug</text>
<text class="xt" transform="translate(428.90,414.1) rotate(-60)" x="0" y="10.9" font-size="12px" fill="#4D4D4D" text-anchor="end">07 Sep</text>
<text class="xt" transform="translate(441.71,414.1) rotate(-60)" x="0" y="10.9" font-size="12px" fill="#4D4D4D" text-anchor="end">14 Sep</text>
<text class="xt" transform="translate(454.53,414.1) rotate(-60)" x="0" y="10.9" font-size="12px" fill="#4D4D4D" text-anchor="end">21 Sep</text>
<text class="xt" transform="translate(467.34,414.1) rotate(-60)" x="0" y="10.9" font-size="12px" fill="#4D4D4D" text-anchor="end">28 Sep</text>
<text class="xt" transform="translate(480.16,414.1) rotate(-60)" x="0" y="10.9" font-size="12px" fill="#4D4D4D" text-anchor="end">05 Oct</text>
<text class="xt" transform="translate(492.97,414.1) rotate(-60)" x="0" y="10.9" font-size="12px" fill="#4D4D4D" text-anchor="end">12 Oct</text>
<text class="xt" transform="translate(505.79,414.1) rotate(-60)" x="0" y="10.9" font-size="12px" fill="#4D4D4D" text-anchor="end">19 Oct</text>
<text class="xt" transform="translate(518.60,414.1) rotate(-60)" x="0" y="10.9" font-size="12px" fill="#4D4D4D" text-anchor="end">26 Oct</text>
<text class="xt" transform="translate(531.41,414.1) rotate(-60)" x="0" y="10.9" font-size="12px" fill="#4D4D4D" text-anchor="end">02 Nov</text>
<text class="xt" transform="translate(544.23,414.1) rotate(-60)" x="0" y="10.9" font-size="12px" fill="#4D4D4D" text-anchor="end">09 Nov</text>
<text class="xt" transform="translate(557.04,414.1) rotate(-60)" x="0" y="10.9" font-size="12px" fill="#4D4D4D" text-anchor="end">16 Nov</text>
<text class="xt" transform="translate(569.86,414.1) rotate(-60)" x="0" y="10.9" font-size="12px" fill="#4D4D4D" text-anchor="end">23 Nov</text>
<text class="xt" transform="translate(582.67,414.1) rotate(-60)" x="0" y="10.9" font-size="12px" fill="#4D4D4D" text-anchor="end">30 Nov</text>
<text class="xt" transform="translate(595.49,414.1) rotate(-60)" x="0" y="10.9" font-size="12px" fill="#4D4D4D" text-anchor="end">07 Dec</text>
<text class="xt" transform="translate(608.30,414.1) rotate(-60)" x="0" y="10.9" font-size="12px" fill="#4D4D4D" text-anchor="end">14 Dec</text>
<text class="xt" transform="translate(621.11,414.1) rotate(-60)" x="0" y="10.9" font-size="12px" fill="#4D4D4D" text-anchor="end">21 Dec</text>
<text class="xt" transform="translate(633.93,414.1) rotate(-60)" x="0" y="10.9" font-size="12px" fill="#4D4D4D" text-anchor="end">28 Dec</text>
<text class="xt" transform="translate(646.74,414.1) rotate(-60)" x="0" y="10.9" font-size="12px" fill="#4D4D4D" text-anchor="end">04 Jan</text>
<text class="xt" transform="translate(659.56,414.1) rotate(-60)" x="0" y="10.9" font-size="12px" fill="#4D4D4D" text-anchor="end">11 Jan</text>
</svg></body></html>
